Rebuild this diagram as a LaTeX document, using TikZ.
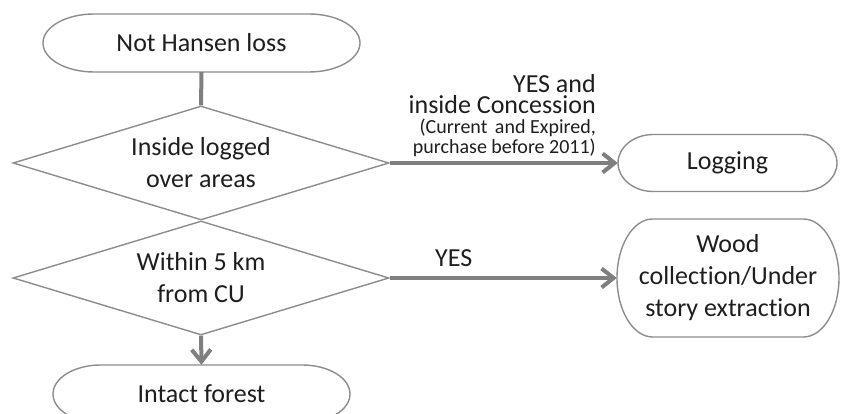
\documentclass[tikz,border=0pt]{standalone}
\usepackage{fontspec}
\setmainfont{Carlito}[RawFeature=-liga]
\usetikzlibrary{arrows.meta,shapes.geometric}
\definecolor{lineg}{HTML}{8C8C8C}
\definecolor{arrowg}{HTML}{7F7F7F}
\definecolor{txtc}{HTML}{1E1E1E}
% terminator outline: center x, center y, width, height
\newcommand\termpath[4]{%
  \draw[shapeline] ({#1-#3/2+0.161*#3},{#2+#4/2}) -- ({#1+#3/2-0.161*#3},{#2+#4/2})
    arc[start angle=90,end angle=-90,x radius={0.161*#3},y radius={#4/2}]
    -- ({#1-#3/2+0.161*#3},{#2-#4/2})
    arc[start angle=270,end angle=90,x radius={0.161*#3},y radius={#4/2}] -- cycle;}
\begin{document}
\begin{tikzpicture}[x=1pt,y=1pt,
  shapeline/.style={draw=lineg, line width=1.4pt},
  txt/.style={font=\fontsize{26}{32}\selectfont, text=txtc, align=center, inner sep=0pt},
  decision/.style={txt, diamond, shapeline, aspect=3.3, minimum width=376pt, minimum height=114pt},
  conn/.style={draw=arrowg, line width=4pt},
  arr/.style={conn, -{Straight Barb[length=12pt,width=19pt]}},
  lbl/.style={text=txtc, inner sep=0pt},
]
\useasboundingbox (0,0) rectangle (841,414);
\clip (0,0) rectangle (841,414);

% terminators
\termpath{201.5}{371}{317}{58}
\node[txt, minimum width=317pt, minimum height=58pt] (start) at (201.5,371) {Not Hansen loss};

\termpath{727.5}{251}{219}{57}
\node[txt, minimum width=219pt, minimum height=57pt] (log) at (727.5,251) {Logging};

\termpath{728}{136}{222}{118}
\node[txt, minimum width=222pt, minimum height=118pt] (wood) at (728,136) {Wood\\collection/Under\\story extraction};

\termpath{201.5}{20}{297}{58}
\node[txt, minimum width=297pt, minimum height=58pt] (intact) at (201.5,20) {Intact forest};

% decisions
\node[decision] (d1) at (201,251) {Inside logged\\over areas};
\node[decision] (d2) at (201,136) {Within 5 km\\from CU};

% connectors
\draw[conn] (start.south) -- (d1.north);
\draw[arr] (d1.east) -- (log.west);
\draw[arr] (d2.east) -- (wood.west);
\draw[arr] (d2.south) -- (intact.north);

% labels
\node[lbl, align=right, anchor=south east, font=\fontsize{26}{20}\selectfont] (lab1) at (596,257)
  {YES and\\[1.5pt]inside Concession\\{\fontsize{20}{20}\selectfont (Current\hspace{3pt} and Expired,}\\{\fontsize{20}{20}\selectfont purchase before 2011)}};
\node[lbl, anchor=base west, font=\fontsize{26}{32}\selectfont] (lab2) at (435,147) {YES};
\end{tikzpicture}
\end{document}
